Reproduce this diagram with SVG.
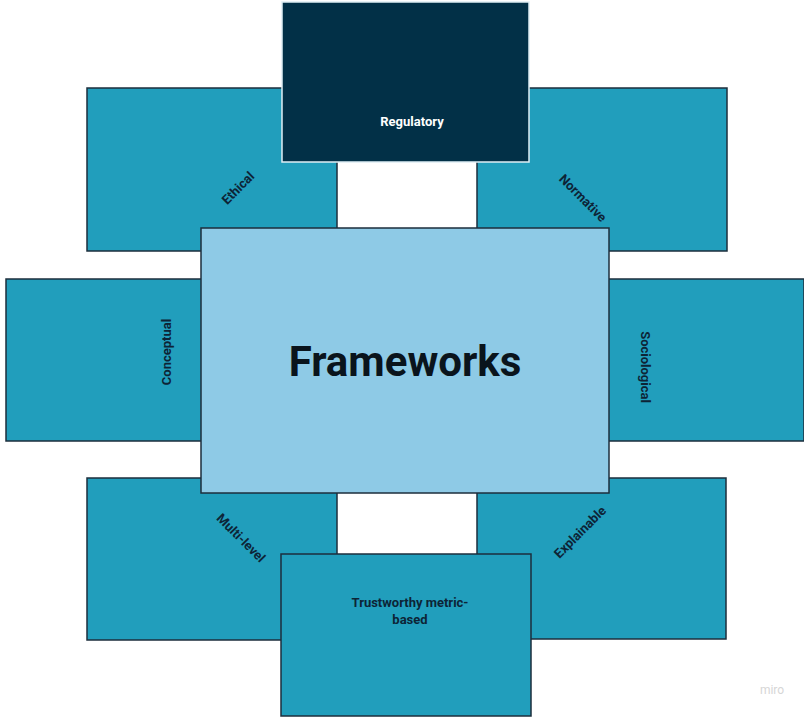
<svg xmlns="http://www.w3.org/2000/svg" width="804" height="717" viewBox="0 0 804 717">
<style>
.box{fill:#219ebc;stroke:#1c2e3c;stroke-width:1.5}
.lbl{font-family:Roboto,"Liberation Sans",sans-serif;font-weight:bold;font-size:13px;fill:#0d2436;text-anchor:middle;dominant-baseline:central}
</style>
<rect width="804" height="717" fill="#ffffff"/>
<g id="connectors"/>
<g id="ethical">
<rect class="box" x="87" y="88" width="250" height="163"/>
<text class="lbl" transform="translate(238,188) rotate(-45)">Ethical</text>
</g>
<g id="normative">
<rect class="box" x="477" y="88" width="250" height="163"/>
<text class="lbl" transform="translate(583,198) rotate(45)">Normative</text>
</g>
<g id="regulatory">
<rect x="282" y="2" width="247" height="160" fill="#023047" stroke="#dfeef5" stroke-width="1.5"/>
<text class="lbl" x="412" y="121" style="fill:#ffffff">Regulatory</text>
</g>
<g id="conceptual">
<rect class="box" x="6" y="279" width="250" height="162"/>
<text class="lbl" transform="translate(166,352) rotate(-90)">Conceptual</text>
</g>
<g id="sociological">
<rect class="box" x="553" y="279" width="251" height="162"/>
<text class="lbl" transform="translate(645,367) rotate(90)">Sociological</text>
</g>
<g id="multi-level">
<rect class="box" x="87" y="478" width="250" height="162"/>
<text class="lbl" transform="translate(241,538) rotate(45)">Multi-level</text>
</g>
<g id="explainable">
<rect class="box" x="477" y="478" width="249" height="161"/>
<text class="lbl" transform="translate(580,532) rotate(-45)">Explainable</text>
</g>
<g id="frameworks">
<rect x="201" y="228" width="408" height="265" fill="#8ecae6" stroke="#1c2e3c" stroke-width="1.5"/>
<text x="405" y="361" style="font-family:Roboto,'Liberation Sans',sans-serif;font-weight:bold;font-size:42px;fill:#0a141c;text-anchor:middle;dominant-baseline:central">Frameworks</text>
</g>
<g id="trustworthy">
<rect class="box" x="281" y="554" width="250" height="162"/>
<text class="lbl" x="410" y="602">Trustworthy metric-</text>
<text class="lbl" x="410" y="619">based</text>
</g>
<text x="772" y="694" style="font-family:Roboto,'Liberation Sans',sans-serif;font-size:12px;fill:#d6d6d6;text-anchor:middle">miro</text>
</svg>
